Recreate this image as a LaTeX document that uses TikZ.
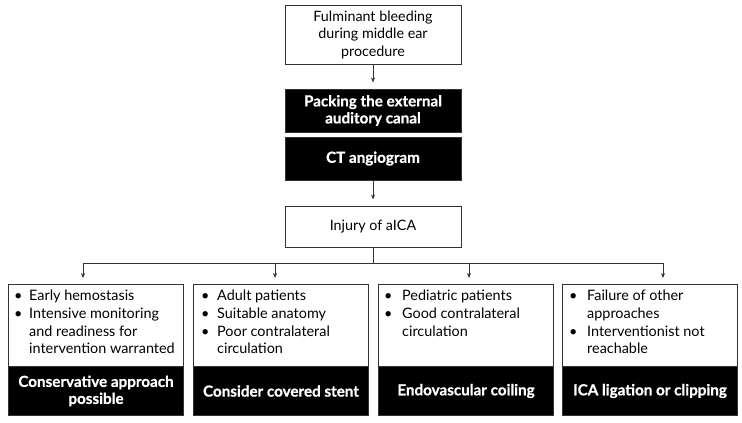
\documentclass[tikz,border=0pt]{standalone}
\usepackage{fontspec}
\setmainfont{Lato}
\newfontfamily\heavyfont{Lato}[BoldFeatures={FakeBold=0.8}]
\usetikzlibrary{arrows.meta}
\begin{document}
\begin{tikzpicture}[x=1pt,y=-1pt,
  line/.style={draw=black!80, line width=1pt},
  arr/.style={line, -{Stealth[length=5pt,width=4pt]}, shorten >=6pt},
  wbox/.style={draw=black!80, line width=1pt, fill=white, minimum width=176pt, align=center, inner sep=0pt, font=\fontsize{14.3}{17.5}\selectfont},
  bbox/.style={draw=black!80, line width=1pt, fill=black, text=white, minimum width=176pt, minimum height=43pt, align=center, inner sep=0pt, font=\heavyfont\fontsize{15.2}{17}\selectfont\bfseries},
  cwbox/.style={draw=black!80, line width=1pt, fill=white, anchor=north west, minimum width=175pt, minimum height=82pt, inner sep=0pt},
  cbbox/.style={draw=black!80, line width=1pt, fill=black, text=white, anchor=north west, minimum width=175pt, minimum height=49pt, align=center, inner sep=0pt, font=\heavyfont\fontsize{15.2}{17}\selectfont\bfseries},
  list/.style={anchor=north west, align=left, inner sep=0pt, font=\fontsize{14.4}{17.6}\selectfont}
]
\useasboundingbox (0,0) rectangle (742,423);
\fill[white] (0,0) rectangle (742,423);

\node[wbox, minimum height=59pt, inner ysep=1.5pt] (top) at (373,34.5) {Fulminant bleeding\\during middle ear\\procedure};
\node[bbox] (pack) at (373,110.5) {Packing the external\\auditory canal};
\node[bbox] (ct) at (373,158.5) {CT angiogram};
\node[wbox, minimum height=41pt] (inj) at (373,226.5) {Injury of aICA};

\draw[arr] (top) -- (pack);
\draw[arr] (ct) -- (inj);

% bottom boxes
\node[cwbox] (w1) at (8,284) {};
\node[cbbox] (b1) at (8,366) {Conservative approach\\possible};
\node[cwbox] (w2) at (193,284) {};
\node[cbbox] (b2) at (193,366) {Consider covered stent};
\node[cwbox] (w3) at (378,284) {};
\node[cbbox] (b3) at (378,366) {Endovascular coiling};
\node[cwbox] (w4) at (562,284) {};
\node[cbbox] (b4) at (562,366) {ICA ligation or clipping};

\node[list] (t1) at (14,290) {\makebox[15pt][l]{\textbullet}Early hemostasis\\
\makebox[15pt][l]{\textbullet}Intensive monitoring\\
\hspace*{15pt}and readiness for\\
\hspace*{15pt}intervention warranted};
\node[list] (t2) at (201,290) {\makebox[16pt][l]{\textbullet}Adult patients\\
\makebox[16pt][l]{\textbullet}Suitable anatomy\\
\makebox[16pt][l]{\textbullet}Poor contralateral\\
\hspace*{16pt}circulation};
\node[list] (t3) at (384,290) {\makebox[18pt][l]{\textbullet}Pediatric patients\\
\makebox[18pt][l]{\textbullet}Good contralateral\\
\hspace*{18pt}circulation};
\node[list] (t4) at (569,290) {\makebox[18pt][l]{\textbullet}Failure of other\\
\hspace*{18pt}approaches\\
\makebox[18pt][l]{\textbullet}Interventionist not\\
\hspace*{18pt}reachable};

% branching connectors
\coordinate (j) at (373,263);
\coordinate (h1) at (83,263);
\coordinate (h2) at (275,263);
\coordinate (h3) at (469,263);
\coordinate (h4) at (663,263);
\draw[line] (inj) -- (j);
\draw[line] (h1) -- (h4);
\draw[arr] (h1) -- (h1 |- w1.north);
\draw[arr] (h2) -- (h2 |- w2.north);
\draw[arr] (h3) -- (h3 |- w3.north);
\draw[arr] (h4) -- (h4 |- w4.north);
\end{tikzpicture}
\end{document}
